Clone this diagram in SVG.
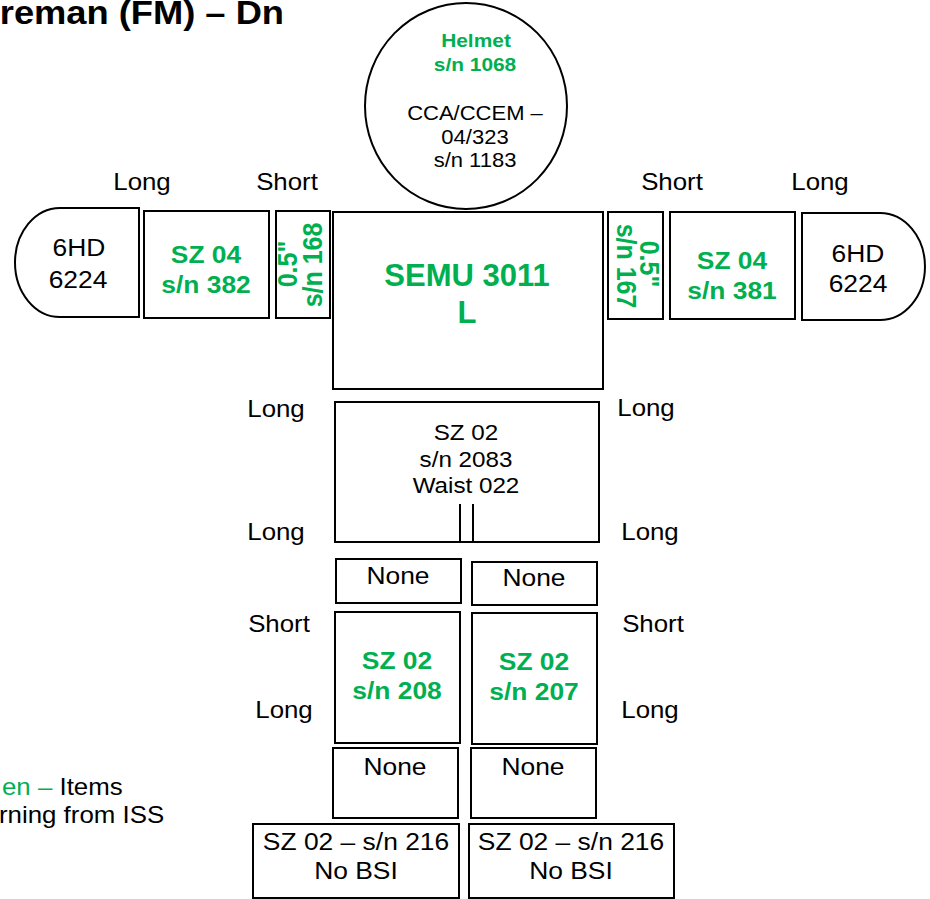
<svg xmlns="http://www.w3.org/2000/svg" width="930" height="899" viewBox="0 0 930 899">
<style>
.bg{fill:#fff}
.box{fill:#fff;stroke:#000;stroke-width:2}
.ln{fill:none;stroke:#000;stroke-width:2}
text{font-family:"Liberation Sans",Arial,sans-serif;fill:#000}
.lbl{font-size:23.5px;text-anchor:middle}
.bt{font-size:24px;text-anchor:middle}
.sm{font-size:22px;text-anchor:middle}
.hm{font-size:20px;text-anchor:middle}
.g{fill:#00B050;font-weight:bold;text-anchor:middle}
</style>
<rect class="bg" x="0" y="0" width="930" height="899"/>
<g id="title">
<text transform="translate(284,24) scale(1.1,1)" text-anchor="end" font-size="33" font-weight="bold">reman (FM) – Dn</text>
</g>
<g id="legend">
<text transform="translate(2,795) scale(1.1,1)" font-size="23.5"><tspan fill="#00B050">en – </tspan>Items</text>
<text transform="translate(-1,823) scale(1.1,1)" font-size="23.5">rning from ISS</text>
</g>
<g id="labels">
<text class="lbl" transform="translate(142,190) scale(1.1,1)">Long</text>
<text class="lbl" transform="translate(287,190) scale(1.1,1)">Short</text>
<text class="lbl" transform="translate(672,190) scale(1.1,1)">Short</text>
<text class="lbl" transform="translate(820,190) scale(1.1,1)">Long</text>
<text class="lbl" transform="translate(276,417) scale(1.1,1)">Long</text>
<text class="lbl" transform="translate(646,416) scale(1.1,1)">Long</text>
<text class="lbl" transform="translate(276,540) scale(1.1,1)">Long</text>
<text class="lbl" transform="translate(650,540) scale(1.1,1)">Long</text>
<text class="lbl" transform="translate(279,632) scale(1.1,1)">Short</text>
<text class="lbl" transform="translate(653,632) scale(1.1,1)">Short</text>
<text class="lbl" transform="translate(284,718) scale(1.1,1)">Long</text>
<text class="lbl" transform="translate(650,718) scale(1.1,1)">Long</text>
</g>
<g id="helmet">
<ellipse class="box" cx="466" cy="106" rx="101" ry="103"/>
<text class="g" font-size="19" transform="translate(476,47) scale(1.1,1)">Helmet</text>
<text class="g" font-size="19" transform="translate(475,71) scale(1.1,1)">s/n 1068</text>
<text class="hm" transform="translate(475,120) scale(1.1,1)">CCA/CCEM –</text>
<text class="hm" transform="translate(475,144) scale(1.1,1)">04/323</text>
<text class="hm" transform="translate(475,167) scale(1.1,1)">s/n 1183</text>
</g>
<g id="glove-left">
<path class="box" d="M139,208 H60 A45,54.5 0 0 0 60,317 H139 Z"/>
<text class="bt" transform="translate(79,256) scale(1.1,1)">6HD</text>
<text class="bt" transform="translate(78,288) scale(1.1,1)">6224</text>
</g>
<g id="arm-left">
<rect class="box" x="144" y="211" width="125" height="107"/>
<text class="g" font-size="24" transform="translate(206,263) scale(1.1,1)">SZ 04</text>
<text class="g" font-size="24" transform="translate(206,293) scale(1.1,1)">s/n 382</text>
</g>
<g id="ring-left">
<rect class="box" x="276" y="211" width="54" height="107"/>
<text class="g" font-size="25" transform="translate(297,264) scale(1.1,1) rotate(-90)">0.5"</text>
<text class="g" font-size="25" transform="translate(322,265) scale(1.1,1) rotate(-90)">s/n 168</text>
</g>
<g id="semu">
<rect class="box" x="333" y="212" width="270" height="177"/>
<text class="g" font-size="31" x="467" y="286">SEMU 3011</text>
<text class="g" font-size="31" x="467" y="323">L</text>
</g>
<g id="ring-right">
<rect class="box" x="608" y="212" width="55" height="107"/>
<text class="g" font-size="25" transform="translate(640,264) scale(1.1,1) rotate(90)">0.5"</text>
<text class="g" font-size="25" transform="translate(617,266) scale(1.1,1) rotate(90)">s/n 167</text>
</g>
<g id="arm-right">
<rect class="box" x="670" y="212" width="125" height="107"/>
<text class="g" font-size="24" transform="translate(732,269) scale(1.1,1)">SZ 04</text>
<text class="g" font-size="24" transform="translate(732,299) scale(1.1,1)">s/n 381</text>
</g>
<g id="glove-right">
<path class="box" d="M802,213 H880 A45,53.5 0 0 1 880,320 H802 Z"/>
<text class="bt" transform="translate(858,262) scale(1.1,1)">6HD</text>
<text class="bt" transform="translate(858,292) scale(1.1,1)">6224</text>
</g>
<g id="waist">
<rect class="box" x="335" y="402" width="264" height="140"/>
<line class="ln" x1="460" y1="504" x2="460" y2="542"/>
<line class="ln" x1="473" y1="504" x2="473" y2="542"/>
<text class="sm" transform="translate(466,440) scale(1.1,1)">SZ 02</text>
<text class="sm" transform="translate(466,467) scale(1.1,1)">s/n 2083</text>
<text class="sm" transform="translate(466,493) scale(1.1,1)">Waist 022</text>
</g>
<g id="none-upper-left">
<rect class="box" x="336" y="559" width="125" height="44"/>
<text class="bt" transform="translate(398,584) scale(1.1,1)">None</text>
</g>
<g id="none-upper-right">
<rect class="box" x="472" y="562" width="125" height="43"/>
<text class="bt" transform="translate(534,586) scale(1.1,1)">None</text>
</g>
<g id="leg-left">
<rect class="box" x="335" y="612" width="125" height="131"/>
<text class="g" font-size="24" transform="translate(397,669) scale(1.1,1)">SZ 02</text>
<text class="g" font-size="24" transform="translate(397,699) scale(1.1,1)">s/n 208</text>
</g>
<g id="leg-right">
<rect class="box" x="472" y="613" width="125" height="131"/>
<text class="g" font-size="24" transform="translate(534,670) scale(1.1,1)">SZ 02</text>
<text class="g" font-size="24" transform="translate(534,700) scale(1.1,1)">s/n 207</text>
</g>
<g id="none-lower-left">
<rect class="box" x="333" y="748" width="125" height="70"/>
<text class="bt" transform="translate(395,775) scale(1.1,1)">None</text>
</g>
<g id="none-lower-right">
<rect class="box" x="471" y="748" width="125" height="70"/>
<text class="bt" transform="translate(533,775) scale(1.1,1)">None</text>
</g>
<g id="boot-left">
<rect class="box" x="253" y="824" width="206" height="74"/>
<text class="bt" transform="translate(356,850) scale(1.1,1)">SZ 02 – s/n 216</text>
<text class="bt" transform="translate(356,879) scale(1.1,1)">No BSI</text>
</g>
<g id="boot-right">
<rect class="box" x="469" y="824" width="205" height="74"/>
<text class="bt" transform="translate(571,850) scale(1.1,1)">SZ 02 – s/n 216</text>
<text class="bt" transform="translate(571,879) scale(1.1,1)">No BSI</text>
</g>
<g id="connectors"></g>
</svg>
